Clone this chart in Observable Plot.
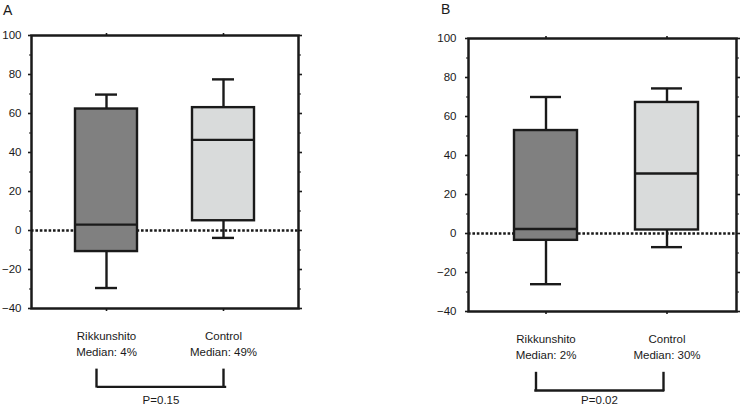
<!DOCTYPE html>
<html>
<head>
<meta charset="utf-8">
<script src="https://cdn.jsdelivr.net/npm/d3@7"></script>
<script src="https://cdn.jsdelivr.net/npm/@observablehq/plot@0.6"></script>
<style>
  body { margin: 0; background: #fff; }
  #wrap { position: relative; width: 740px; height: 406px; overflow: hidden; background: #fff;
          font-family: 'Liberation Sans', Arial, Helvetica, sans-serif; color: #1a1a1a; }
  .panel { position: absolute; top: 0; }
  .letter { position: absolute; font-size: 14px; line-height: 1; color: #1a1a1a; }
</style>
</head>
<body>
<div id="wrap"></div>
<script>
// ---- data ----
const categories = ["Rikkunshito", "Control"];
const yTicks = [-40, -20, 0, 20, 40, 60, 80, 100];
const yMinorTicks = [-30, -10, 10, 30, 50, 70, 90];

// Panel A
const A_min    = [-29.5, -3.8];
const A_q1     = [-10.8, 5.0];
const A_median = [3.0, 46.5];
const A_q3     = [62.3, 63.0];
const A_max    = [69.7, 77.5];
const A_medianLabel = ["4%", "49%"];
const A_p = "P=0.15";

// Panel B
const B_min    = [-26.0, -7.0];
const B_q1     = [-3.5, 1.8];
const B_median = [2.3, 30.8];
const B_q3     = [52.8, 67.2];
const B_max    = [70.0, 74.4];
const B_medianLabel = ["2%", "30%"];
const B_p = "P=0.02";

const boxFill = ["#808080", "#d9dbdb"];

const font = "'Liberation Sans', Arial, Helvetica, sans-serif";
const ink = "#1a1a1a";
const lw = 2.4;

function panel(vals, lay) {
  const rows = categories.map((c, i) => ({
    cat: c, min: vals.min[i], q1: vals.q1[i], median: vals.median[i],
    q3: vals.q3[i], max: vals.max[i], fill: boxFill[i], med: vals.medLabel[i]
  }));
  const medByCat = Object.fromEntries(rows.map(r => [r.cat, r.med]));
  return Plot.plot({
    width: lay.width, height: 406,
    marginLeft: lay.ml, marginRight: lay.mr, marginTop: lay.mt, marginBottom: lay.mb,
    style: { fontFamily: font, fontSize: "11px", color: ink, background: "transparent", overflow: "visible" },
    x: { type: "band", domain: categories, paddingInner: lay.pi, paddingOuter: lay.po, align: lay.align, axis: null },
    y: { domain: [-40, 100], axis: null },
    marks: [
      // zero reference line
      Plot.ruleY([0], { stroke: ink, strokeWidth: 2.6, strokeDasharray: "2.6,1.8" }),
      // whiskers
      Plot.ruleX(rows, { x: "cat", y1: "q3", y2: "max", stroke: ink, strokeWidth: lw }),
      Plot.ruleX(rows, { x: "cat", y1: "min", y2: "q1", stroke: ink, strokeWidth: lw }),
      Plot.tickY(rows, { x: "cat", y: "max", stroke: ink, strokeWidth: lw, insetLeft: lay.cap, insetRight: lay.cap }),
      Plot.tickY(rows, { x: "cat", y: "min", stroke: ink, strokeWidth: lw, insetLeft: lay.cap, insetRight: lay.cap }),
      // boxes
      Plot.barY(rows, { x: "cat", y1: "q1", y2: "q3", fill: "fill", stroke: ink, strokeWidth: lw }),
      Plot.tickY(rows, { x: "cat", y: "median", stroke: ink, strokeWidth: lw }),
      // frame
      Plot.frame({ stroke: ink, strokeWidth: 2.5 }),
      // axes
      Plot.axisY({ ticks: yTicks, tickSize: 3, tickPadding: lay.tp, strokeWidth: 1.6, fontSize: 11.5, label: null, fill: ink }),
      Plot.axisY({ ticks: yMinorTicks, tickSize: 2, tickFormat: () => "", strokeWidth: 1.2, label: null }),
      Plot.axisY({ anchor: "right", ticks: yTicks, tickSize: 3, tickFormat: () => "", strokeWidth: 1.6, label: null }),
      Plot.axisY({ anchor: "right", ticks: yMinorTicks, tickSize: 2, tickFormat: () => "", strokeWidth: 1.2, label: null }),
      Plot.axisX({ anchor: "top", tickSize: 3, tickFormat: () => "", strokeWidth: 1.6, label: null }),
      Plot.axisX({ anchor: "bottom", tickSize: 3, tickPadding: 17, strokeWidth: 1.6, label: null,
                   tickFormat: d => `${d}\nMedian: ${medByCat[d]}`, lineHeight: 1.4, fontSize: 11.5, fill: ink }),
      // significance bracket
      Plot.ruleX([categories[0]], { x: d => d, y1: lay.bTop, y2: lay.bBot, dx: lay.bdl, stroke: ink, strokeWidth: lw, strokeLinecap: "square" }),
      Plot.ruleX([categories[1]], { x: d => d, y1: lay.bTop, y2: lay.bBot, dx: lay.bdr, stroke: ink, strokeWidth: lw, strokeLinecap: "square" }),
      Plot.ruleY([lay.bBot], { y: d => d, x1: () => categories[0], x2: () => categories[1],
                               insetLeft: lay.bil, insetRight: lay.bir, stroke: ink, strokeWidth: lw, strokeLinecap: "square" }),
      Plot.text([vals.p], { y: () => lay.pY, text: d => d, frameAnchor: "middle", dx: lay.pdx, fontSize: 11.5, fill: ink })
    ]
  });
}

const wrap = document.getElementById("wrap");

const svgA = panel(
  { min: A_min, q1: A_q1, median: A_median, q3: A_q3, max: A_max, medLabel: A_medianLabel, p: A_p },
  { width: 330, ml: 31, mr: 32, mt: 35, mb: 98, pi: 0.47, po: 0.37, align: 0.5, cap: 20, tp: 7,
    bTop: -71.7, bBot: -80.2, bdl: -10, bdr: 0, bil: 23, bir: 29, pY: -87.0, pdx: -4 }
);
svgA.classList.add("panel");
svgA.style.left = "0px";
wrap.appendChild(svgA);

const svgB = panel(
  { min: B_min, q1: B_q1, median: B_median, q3: B_q3, max: B_max, medLabel: B_medianLabel, p: B_p },
  { width: 370, ml: 98, mr: 4, mt: 38, mb: 95, pi: 0.48, po: 0.343, align: 0.545, cap: 16, tp: 9,
    bTop: -71.8, bBot: -80.5, bdl: -10, bdr: -3.5, bil: 21.5, bir: 35, pY: -85.8, pdx: -3 }
);
svgB.classList.add("panel");
svgB.style.left = "370px";
wrap.appendChild(svgB);

for (const [t, x, y] of [["A", 3, 3], ["B", 441, 2]]) {
  const d = document.createElement("div");
  d.className = "letter";
  d.textContent = t;
  d.style.left = x + "px";
  d.style.top = y + "px";
  wrap.appendChild(d);
}
</script>
</body>
</html>
